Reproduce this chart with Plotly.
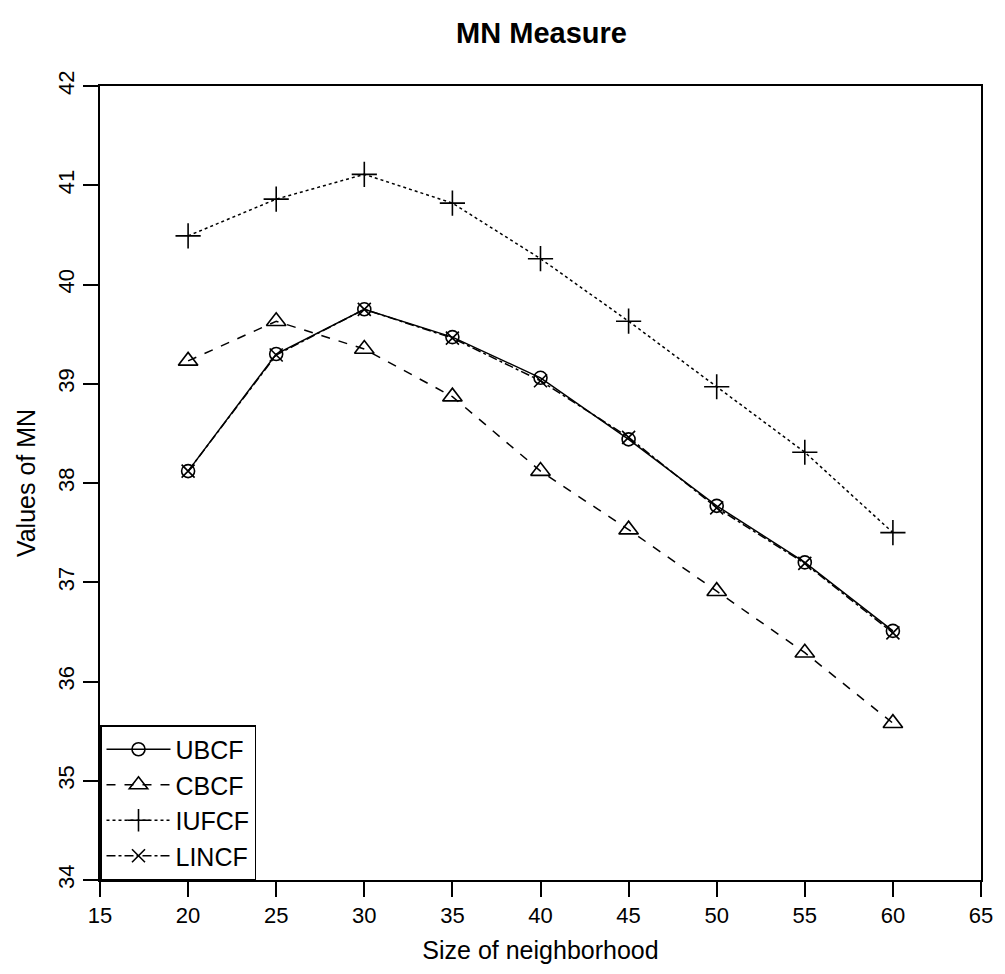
import plotly.graph_objects as go

# Neighborhood sizes and MN values for each method
neighborhood = [20, 25, 30, 35, 40, 45, 50, 55, 60]
ubcf = [38.12, 39.30, 39.75, 39.47, 39.06, 38.44, 37.77, 37.20, 36.51]
cbcf = [39.23, 39.63, 39.35, 38.87, 38.12, 37.53, 36.91, 36.29, 35.58]
iufcf = [40.49, 40.86, 41.11, 40.82, 40.26, 39.63, 38.97, 38.31, 37.50]
lincf = [38.12, 39.29, 39.75, 39.46, 39.03, 38.46, 37.75, 37.19, 36.49]

x_ticks = [15, 20, 25, 30, 35, 40, 45, 50, 55, 60, 65]
y_ticks = [34, 35, 36, 37, 38, 39, 40, 41, 42]

series = [
    ("UBCF", ubcf, "solid", "circle-open", 13),
    ("CBCF", cbcf, "dash", "triangle-up-open", 17),
    ("IUFCF", iufcf, "dot", "cross-thin-open", 18),
    ("LINCF", lincf, "dashdot", "x-thin-open", 13),
]

FONT = "Liberation Sans, Arial, sans-serif"

fig = go.Figure()
for name, vals, dash, sym, size in series:
    fig.add_trace(go.Scatter(
        x=neighborhood, y=vals, name=name, mode="lines+markers",
        line=dict(color="black", width=1.5, dash=dash),
        marker=dict(symbol=sym, size=size, color="black",
                    line=dict(color="black", width=1.6)),
    ))

axis_common = dict(
    showline=True, linecolor="black", linewidth=1.5, mirror=True,
    ticks="outside", ticklen=15, tickwidth=1.5, tickcolor="black",
    showgrid=False, zeroline=False,
    tickfont=dict(family=FONT, size=22, color="black"),
)

fig.update_layout(
    width=1005, height=974,
    paper_bgcolor="white", plot_bgcolor="white",
    margin=dict(l=100, r=22, t=86, b=94),
    font=dict(family=FONT, color="black"),
    title=dict(text="<b>MN Measure</b>", x=541.5 / 1005, xanchor="center",
               y=1 - 33 / 974, yanchor="middle",
               font=dict(size=29, color="black")),
    xaxis=dict(range=[15, 65], tickvals=x_ticks, ticktext=[str(v) for v in x_ticks],
               title=dict(text="Size of neighborhood", font=dict(size=25), standoff=14),
               **axis_common),
    yaxis=dict(range=[34, 42], tickvals=y_ticks, ticktext=[str(v) for v in y_ticks],
               tickangle=-90,
               title=dict(text="Values of MN", font=dict(size=25), standoff=12),
               **axis_common),
    legend=dict(x=0, y=0, xanchor="left", yanchor="bottom",
                bordercolor="black", borderwidth=1.5, bgcolor="white",
                font=dict(size=25, color="black"), itemwidth=64,
                tracegroupgap=0),
    showlegend=True,
)

fig.write_html("out.html")
